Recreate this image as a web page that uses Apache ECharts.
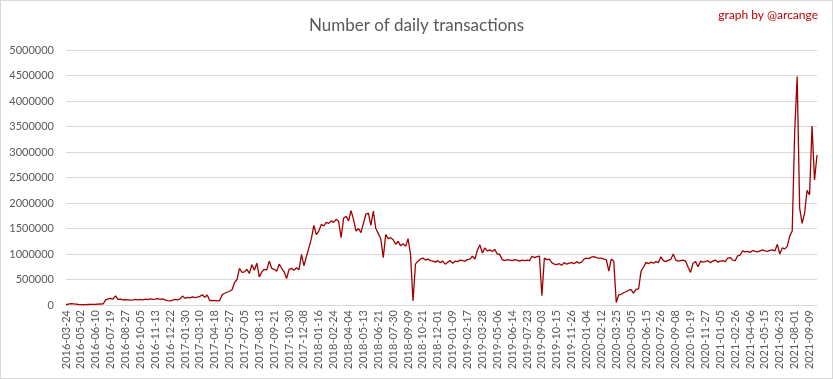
<!DOCTYPE html>
<html>
<head>
<meta charset="utf-8">
<script src="https://cdn.jsdelivr.net/npm/echarts@6/dist/echarts.min.js"></script>
<style>
html,body{margin:0;padding:0;background:#fff;}
#chart{width:833px;height:379px;box-sizing:border-box;border:1px solid #d9d9d9;}
</style>
</head>
<body>
<div id="chart"></div>
<script>
const chartTitle = 'Number of daily transactions';
const credit = 'graph by @arcange';
const tickLabels = [
'2016-03-24','2016-05-02','2016-06-10','2016-07-19','2016-08-27','2016-10-05','2016-11-13','2016-12-22',
'2017-01-30','2017-03-10','2017-04-18','2017-05-27','2017-07-05','2017-08-13','2017-09-21','2017-10-30',
'2017-12-08','2018-01-16','2018-02-24','2018-04-04','2018-05-13','2018-06-21','2018-07-30','2018-09-09',
'2018-10-21','2018-12-01','2019-01-09','2019-02-17','2019-03-28','2019-05-06','2019-06-14','2019-07-23',
'2019-09-03','2019-10-15','2019-11-26','2020-01-04','2020-02-12','2020-03-25','2020-05-05','2020-06-15',
'2020-07-26','2020-09-08','2020-10-19','2020-11-27','2021-01-05','2021-02-26','2021-04-06','2021-05-15',
'2021-06-23','2021-08-01','2021-09-09'
];
const pointsPerTick = 6;
const transactions = [
5000,15000,25000,22000,18000,10000,
6000,5000,8000,10000,12000,14000,
15000,18000,20000,22000,100000,120000,
130000,115000,180000,110000,115000,100000,
105000,100000,95000,100000,110000,100000,
110000,100000,115000,105000,120000,110000,
115000,125000,110000,120000,100000,85000,
80000,95000,110000,100000,120000,175000,
130000,150000,140000,160000,145000,155000,
170000,200000,150000,195000,85000,90000,
85000,80000,88000,200000,230000,250000,
270000,300000,440000,500000,720000,640000,
650000,700000,620000,790000,680000,820000,
550000,650000,700000,690000,860000,720000,
700000,660000,800000,720000,650000,520000,
700000,720000,680000,730000,690000,990000,
770000,950000,1120000,1300000,1560000,1380000,
1450000,1580000,1550000,1620000,1600000,1650000,
1620000,1680000,1640000,1320000,1700000,1740000,
1650000,1850000,1680000,1450000,1500000,1420000,
1600000,1780000,1800000,1560000,1840000,1500000,
1400000,1300000,930000,1380000,1300000,1320000,
1280000,1190000,1250000,1160000,1200000,1150000,
1300000,1000000,80000,800000,860000,900000,
920000,880000,900000,870000,860000,840000,
870000,830000,860000,800000,840000,870000,
820000,860000,850000,880000,870000,860000,
890000,900000,955000,900000,1080000,1180000,
1020000,1120000,1060000,1080000,1050000,1090000,
1000000,990000,890000,870000,890000,880000,
870000,890000,880000,860000,880000,870000,
880000,870000,955000,930000,950000,960000,
180000,920000,890000,900000,830000,800000,
790000,810000,780000,830000,800000,820000,
830000,810000,850000,820000,840000,900000,
920000,910000,940000,950000,930000,920000,
920000,900000,890000,665000,900000,860000,
50000,200000,210000,240000,260000,290000,
300000,230000,310000,310000,660000,740000,
835000,810000,840000,820000,850000,830000,
945000,870000,850000,880000,890000,1000000,
880000,860000,870000,880000,860000,740000,
640000,820000,850000,750000,860000,840000,
850000,870000,830000,860000,880000,840000,
860000,870000,850000,920000,930000,880000,
870000,965000,980000,1060000,1040000,1050000,
1030000,1070000,1050000,1040000,1060000,1080000,
1060000,1050000,1070000,1080000,1060000,1190000,
1000000,1120000,1100000,1150000,1350000,1450000,
3400000,4480000,1900000,1600000,1800000,2250000,
2160000,3510000,2450000,2940000
];

// category names: tick dates, intermediate points approximated by day offsets
function addDays(s, d) {
  const t = new Date(s + 'T00:00:00Z');
  t.setUTCDate(t.getUTCDate() + d);
  return t.toISOString().slice(0, 10);
}
const categories = transactions.map(function (v, i) {
  const j = Math.min(Math.floor(i / pointsPerTick), tickLabels.length - 1);
  const off = i - j * pointsPerTick;
  return off === 0 ? tickLabels[j] : addDays(tickLabels[j], Math.round(off * 6.5));
});

const chart = echarts.init(document.getElementById('chart'), null, {renderer: 'canvas'});
chart.setOption({
  animation: false,
  backgroundColor: '#ffffff',
  title: {
    text: chartTitle,
    left: 'center',
    top: 11,
    textStyle: {fontFamily: 'Lato', fontSize: 17, fontWeight: 'normal', color: '#595959'}
  },
  graphic: [{
    type: 'text',
    right: 14,
    top: 8,
    style: {text: credit, fill: '#c00000', font: '12px Lato'}
  }],
  grid: {left: 65, right: 15, top: 49, bottom: 73, containLabel: false},
  xAxis: {
    type: 'category',
    data: categories,
    boundaryGap: false,
    axisLine: {show: true, lineStyle: {color: '#d9d9d9', width: 1}},
    axisTick: {show: false},
    splitLine: {show: false},
    axisLabel: {
      interval: pointsPerTick - 1,
      rotate: 90,
      margin: 5,
      color: '#595959',
      fontFamily: 'Lato',
      fontSize: 11
    }
  },
  yAxis: {
    type: 'value',
    min: 0,
    max: 5000000,
    interval: 500000,
    axisLine: {show: false},
    axisTick: {show: false},
    splitLine: {lineStyle: {color: '#d9d9d9', width: 1}},
    axisLabel: {
      color: '#595959', fontFamily: 'Lato', fontSize: 11, margin: 12,
      formatter: function (v) { return String(v); }
    }
  },
  series: [{
    type: 'line',
    data: transactions,
    showSymbol: false,
    symbol: 'none',
    lineStyle: {color: '#a00000', width: 1.3},
    itemStyle: {color: '#a00000'}
  }]
});
</script>
</body>
</html>
